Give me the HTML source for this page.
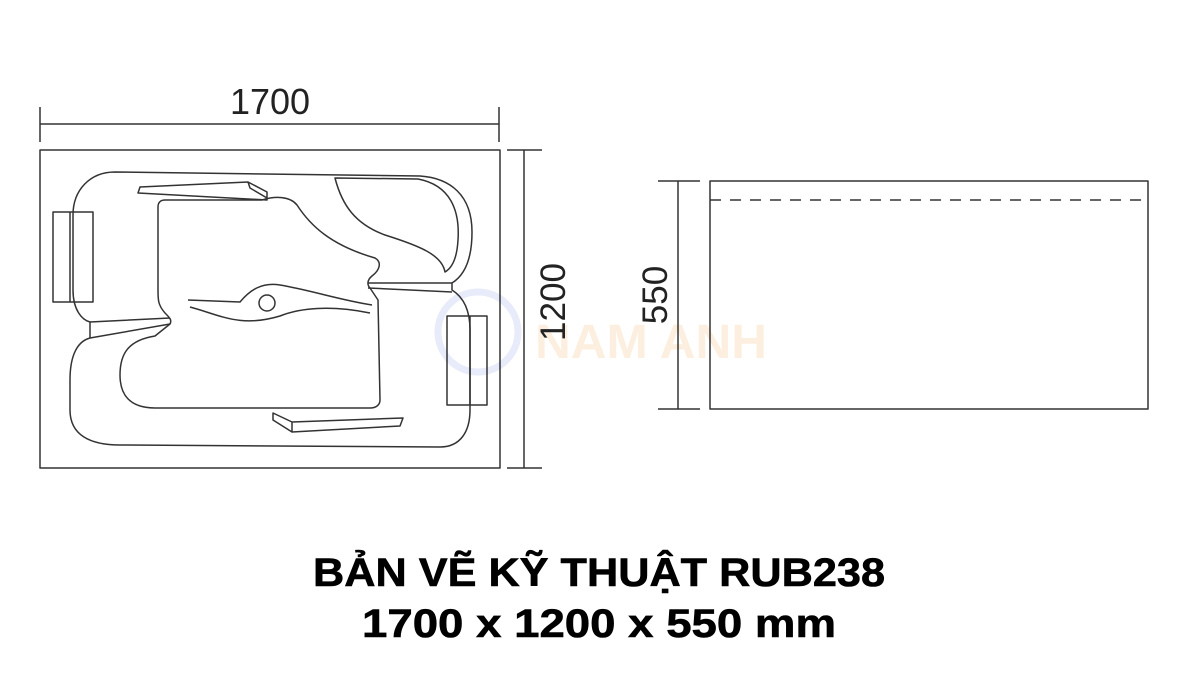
<!DOCTYPE html>
<html><head><meta charset="utf-8"><style>
html,body{margin:0;padding:0;background:#fff;}
svg{display:block;}
</style></head><body>
<svg width="1200" height="675" viewBox="0 0 1200 675" xmlns="http://www.w3.org/2000/svg">
<rect width="1200" height="675" fill="#fff"/>
<!-- watermark -->
<circle cx="478" cy="332" r="40" fill="none" stroke="#e8ebf9" stroke-width="7"/>
<text x="535" y="358" font-family="Liberation Sans, sans-serif" font-weight="bold" font-size="48" fill="#fdefe0" textLength="232" lengthAdjust="spacingAndGlyphs">NAM ANH</text>
<g fill="none" stroke="#333" stroke-width="1.5" stroke-linejoin="round">
<line x1="40" y1="124" x2="499" y2="124"/>
<line x1="40" y1="107" x2="40" y2="142"/>
<line x1="499" y1="107" x2="499" y2="142"/>
<line x1="524" y1="150" x2="524" y2="468"/>
<line x1="507" y1="150" x2="542" y2="150"/>
<line x1="507" y1="468" x2="542" y2="468"/>
<rect x="40" y="150" width="460" height="318"/>
<path d="M115,172 C90,172 73,190 73,215 L73,290 C73,310 82,320 90,322 L90,338 C75,342 70,360 70,380 L70,410 C70,435 90,445 120,445 L440,447 C460,447 470,432 470,410 L470,330 C470,305 460,295 452,290 L452,283 C465,275 472,258 472,232 C472,195 450,178 420,176 Z"/>
<rect x="53" y="212" width="40" height="90"/>
<line x1="70" y1="212" x2="70" y2="302"/>
<rect x="447" y="316" width="40" height="89"/>
<line x1="470" y1="316" x2="470" y2="405"/>
<path d="M90,322 L170,318 M90,338 L170,324"/>
<path d="M368,283 L452,283 M368,288 L452,292"/>
<path d="M165,200 L262,200 C275,196 290,196 297,205 C310,225 330,245 375,258 C382,262 380,270 372,276 C367,280 367,285 370,288 L378,300 L380,400 C380,405 376,408 370,408 L155,408 C130,408 120,395 120,375 C120,352 130,340 155,336 L170,324 C172,320 170,318 165,313 C158,305 158,300 158,290 L158,207 C158,202 161,200 165,200 Z"/>
<path d="M140,187 L248,182 L267,192 L267,200 L138,193 Z M248,182 L250,188 L267,198"/>
<path d="M273,413 L292,422 L403,418 L400,426 L292,432 L273,420 Z M292,422 L292,432"/>
<path d="M335,178 L418,179 C450,185 460,210 458,240 C457,258 452,268 445,272 C442,255 420,246 385,235 C355,224 342,205 335,178 Z"/>
<path d="M188,300 L240,302 C250,290 262,282 280,285 C310,290 340,300 372,305"/>
<path d="M190,307 C220,315 240,328 280,316 C300,308 330,305 370,313"/>
<circle cx="267" cy="303" r="8"/>
<line x1="678" y1="181" x2="678" y2="409"/>
<line x1="658" y1="181" x2="700" y2="181"/>
<line x1="658" y1="409" x2="700" y2="409"/>
<rect x="710" y="181" width="438" height="228"/>
<line x1="710" y1="200" x2="1148" y2="200" stroke-dasharray="11,9"/>
</g>
<g font-family="Liberation Sans, sans-serif" fill="#222">
<text x="270" y="114" font-size="36" text-anchor="middle">1700</text>
<text transform="translate(565,302) rotate(-90)" font-size="35" text-anchor="middle">1200</text>
<text transform="translate(667,295) rotate(-90)" font-size="35" text-anchor="middle">550</text>
</g>
<g font-family="Liberation Sans, 'Noto Sans CJK SC', sans-serif" font-weight="bold" fill="#000" font-size="40" stroke="#000" stroke-width="0.6">
<text x="313" y="586" textLength="572" lengthAdjust="spacingAndGlyphs">BẢN VẼ KỸ THUẬT RUB238</text>
<text x="362" y="637" textLength="474" lengthAdjust="spacingAndGlyphs">1700 x 1200 x 550 mm</text>
</g>
</svg>
</body></html>
